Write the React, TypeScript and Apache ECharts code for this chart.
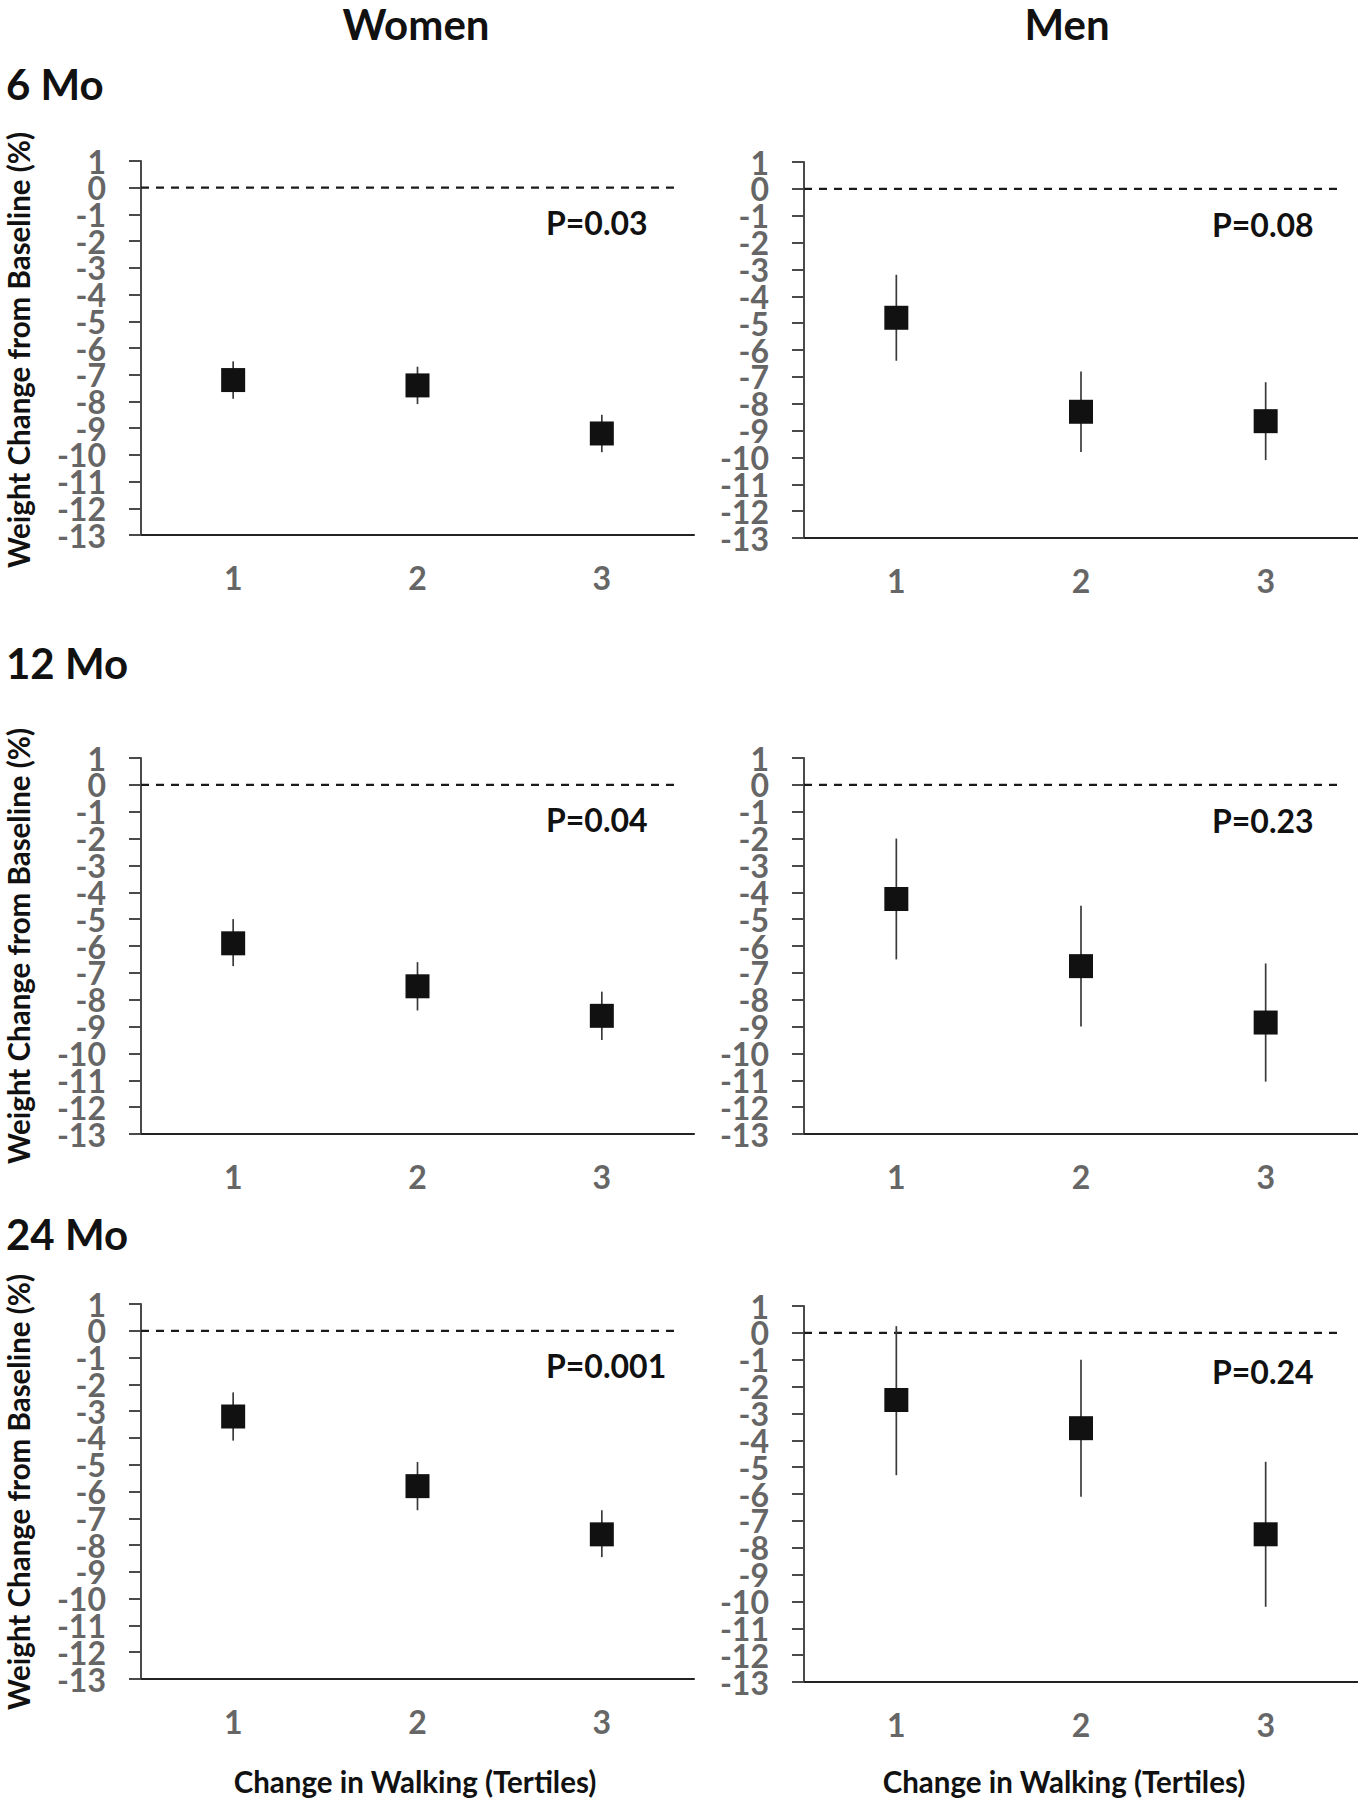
import React, { useEffect, useRef } from "react";
import * as echarts from "echarts";

// ---- data ----
const tertiles = [1, 2, 3];
const yTickValues = [1, 0, -1, -2, -3, -4, -5, -6, -7, -8, -9, -10, -11, -12, -13];

const women6Mean = [-7.2, -7.4, -9.2];
const women6Low = [-7.9, -8.1, -9.9];
const women6High = [-6.5, -6.7, -8.5];

const men6Mean = [-4.8, -8.3, -8.65];
const men6Low = [-6.4, -9.8, -10.1];
const men6High = [-3.2, -6.8, -7.2];

const women12Mean = [-5.9, -7.5, -8.6];
const women12Low = [-6.75, -8.4, -9.5];
const women12High = [-5.0, -6.6, -7.7];

const men12Mean = [-4.25, -6.75, -8.85];
const men12Low = [-6.5, -9.0, -11.05];
const men12High = [-2.0, -4.5, -6.65];

const women24Mean = [-3.2, -5.8, -7.6];
const women24Low = [-4.1, -6.7, -8.45];
const women24High = [-2.3, -4.9, -6.7];

const men24Mean = [-2.5, -3.55, -7.5];
const men24Low = [-5.3, -6.1, -10.2];
const men24High = [0.25, -1.0, -4.8];

const pValues = ["P=0.03", "P=0.08", "P=0.04", "P=0.23", "P=0.001", "P=0.24"];
const rowTitles = ["6 Mo", "12 Mo", "24 Mo"];
const colTitles = ["Women", "Men"];
const yTitle = "Weight Change from Baseline (%)";
const xTitle = "Change in Walking (Tertiles)";
const yMin = -13;
const yMax = 1;
const xMin = 0.5;
const xMax = 3.5;
const zeroLineX = [0.5, 3.4];

const panelData = [
  { mean: women6Mean, low: women6Low, high: women6High },
  { mean: men6Mean, low: men6Low, high: men6High },
  { mean: women12Mean, low: women12Low, high: women12High },
  { mean: men12Mean, low: men12Low, high: men12High },
  { mean: women24Mean, low: women24Low, high: women24High },
  { mean: men24Mean, low: men24Low, high: men24High },
];

// ---- layout ----
const gridBoxes = [
  { left: 141, top: 161, width: 553, height: 374 },
  { left: 804, top: 162, width: 554, height: 376 },
  { left: 141, top: 758, width: 553, height: 376 },
  { left: 804, top: 758, width: 554, height: 376 },
  { left: 141, top: 1304, width: 553, height: 375 },
  { left: 804, top: 1306, width: 554, height: 376 },
];
const pPos = [
  [546, 222],
  [1212, 224],
  [546, 819],
  [1212, 820],
  [546, 1365],
  [1212, 1371],
];
const rowTitleY = [84, 663, 1234];
const colTitleX = [416, 1067];
const yTitleY = [350, 946, 1492];
const xTitleX = [415, 1064];

const FONT = "Lato";
const AXIS_COLOR = "#4a4a4a";
const LABEL_COLOR = "#666666";
const LABEL_SIZE = 32;
const Y_LABEL_GAP = 35;

export default function App() {
  const ref = useRef<HTMLDivElement>(null);

  useEffect(() => {
    if (!ref.current) return;
    const chart = echarts.init(ref.current, undefined, { renderer: "svg" });

    const grid = gridBoxes.map((g) => ({ ...g, containLabel: false }));

    const xAxis = gridBoxes.map((_, i) => ({
      type: "value",
      gridIndex: i,
      min: xMin,
      max: xMax,
      splitLine: { show: false },
      axisTick: { show: false },
      axisLine: { show: true, onZero: false, lineStyle: { color: "#222222", width: 2 } },
      axisLabel: {
        customValues: tertiles,
        color: LABEL_COLOR,
        fontFamily: FONT,
        fontWeight: "bold",
        fontSize: LABEL_SIZE,
        margin: 26,
      },
    }));

    const yAxis = gridBoxes.map((_, i) => ({
      type: "value",
      gridIndex: i,
      min: yMin,
      max: yMax,
      interval: 1,
      splitLine: { show: false },
      axisLine: { show: true, onZero: false, lineStyle: { color: AXIS_COLOR, width: 2 } },
      axisTick: { show: true, length: 12, lineStyle: { color: AXIS_COLOR, width: 2 } },
      axisLabel: { show: false },
    }));

    const series: any[] = [];
    panelData.forEach((p, i) => {
      // zero reference line
      series.push({
        type: "line",
        xAxisIndex: i,
        yAxisIndex: i,
        data: zeroLineX.map((x) => [x, 0]),
        symbol: "none",
        silent: true,
        lineStyle: { type: [8, 7], width: 2.2, color: "#1a1a1a" },
        z: 1,
      });
      // y tick labels placed through the y scale
      series.push({
        type: "custom",
        xAxisIndex: i,
        yAxisIndex: i,
        data: yTickValues.map((v) => [xMin, v]),
        encode: { x: 0, y: 1 },
        silent: true,
        clip: false,
        z: 3,
        renderItem: (params: any, api: any) => {
          const v = api.value(1);
          const pt = api.coord([api.value(0), v]);
          return {
            type: "text",
            x: pt[0] - Y_LABEL_GAP,
            y: pt[1],
            style: {
              text: String(v),
              textAlign: "right",
              textVerticalAlign: "middle",
              fontFamily: FONT,
              fontWeight: "bold",
              fontSize: LABEL_SIZE,
              lineHeight: 26,
              fill: LABEL_COLOR,
            },
          };
        },
      });
      // error bars
      series.push({
        type: "custom",
        xAxisIndex: i,
        yAxisIndex: i,
        data: tertiles.map((t, j) => [t, p.low[j], p.high[j]]),
        encode: { x: 0, y: [1, 2] },
        silent: true,
        z: 2,
        renderItem: (params: any, api: any) => {
          const x = api.value(0);
          const a = api.coord([x, api.value(2)]);
          const b = api.coord([x, api.value(1)]);
          return {
            type: "line",
            shape: { x1: a[0], y1: a[1], x2: b[0], y2: b[1] },
            style: { stroke: "#3a3a3a", lineWidth: 1.7 },
          };
        },
      });
      // means
      series.push({
        type: "scatter",
        xAxisIndex: i,
        yAxisIndex: i,
        data: tertiles.map((t, j) => [t, p.mean[j]]),
        symbol: "rect",
        symbolSize: 24,
        itemStyle: { color: "#111111", opacity: 1 },
        silent: true,
        z: 5,
      });
    });

    const textStyleBase = { fontFamily: FONT, fontWeight: "bold", fill: "#111111" };
    const graphic: any[] = [];
    colTitles.forEach((t, c) => {
      graphic.push({
        type: "text",
        x: colTitleX[c],
        y: 24,
        style: {
          ...textStyleBase,
          text: t,
          fontSize: 42,
          textAlign: "center",
          textVerticalAlign: "middle",
        },
      });
    });
    rowTitles.forEach((t, r) => {
      graphic.push({
        type: "text",
        x: 6,
        y: rowTitleY[r],
        style: { ...textStyleBase, text: t, fontSize: 42, textAlign: "left", textVerticalAlign: "middle" },
      });
      graphic.push({
        type: "text",
        x: 18,
        y: yTitleY[r],
        rotation: Math.PI / 2,
        style: { ...textStyleBase, text: yTitle, fontSize: 29.5, textAlign: "center", textVerticalAlign: "middle" },
      });
    });
    pValues.forEach((t, i) => {
      graphic.push({
        type: "text",
        x: pPos[i][0],
        y: pPos[i][1],
        style: { ...textStyleBase, text: t, fontSize: 32, textAlign: "left", textVerticalAlign: "middle" },
      });
    });
    colTitles.forEach((_, c) => {
      graphic.push({
        type: "text",
        x: xTitleX[c],
        y: 1781,
        style: { ...textStyleBase, text: xTitle, fontSize: 29.5, textAlign: "center", textVerticalAlign: "middle" },
      });
    });

    chart.setOption({
      animation: false,
      backgroundColor: "#ffffff",
      grid,
      xAxis,
      yAxis,
      series,
      graphic,
    });

    return () => chart.dispose();
  }, []);

  return (
    <div
      ref={ref}
      style={{ position: "absolute", left: 0, top: 0, width: 1358, height: 1800 }}
    />
  );
}
